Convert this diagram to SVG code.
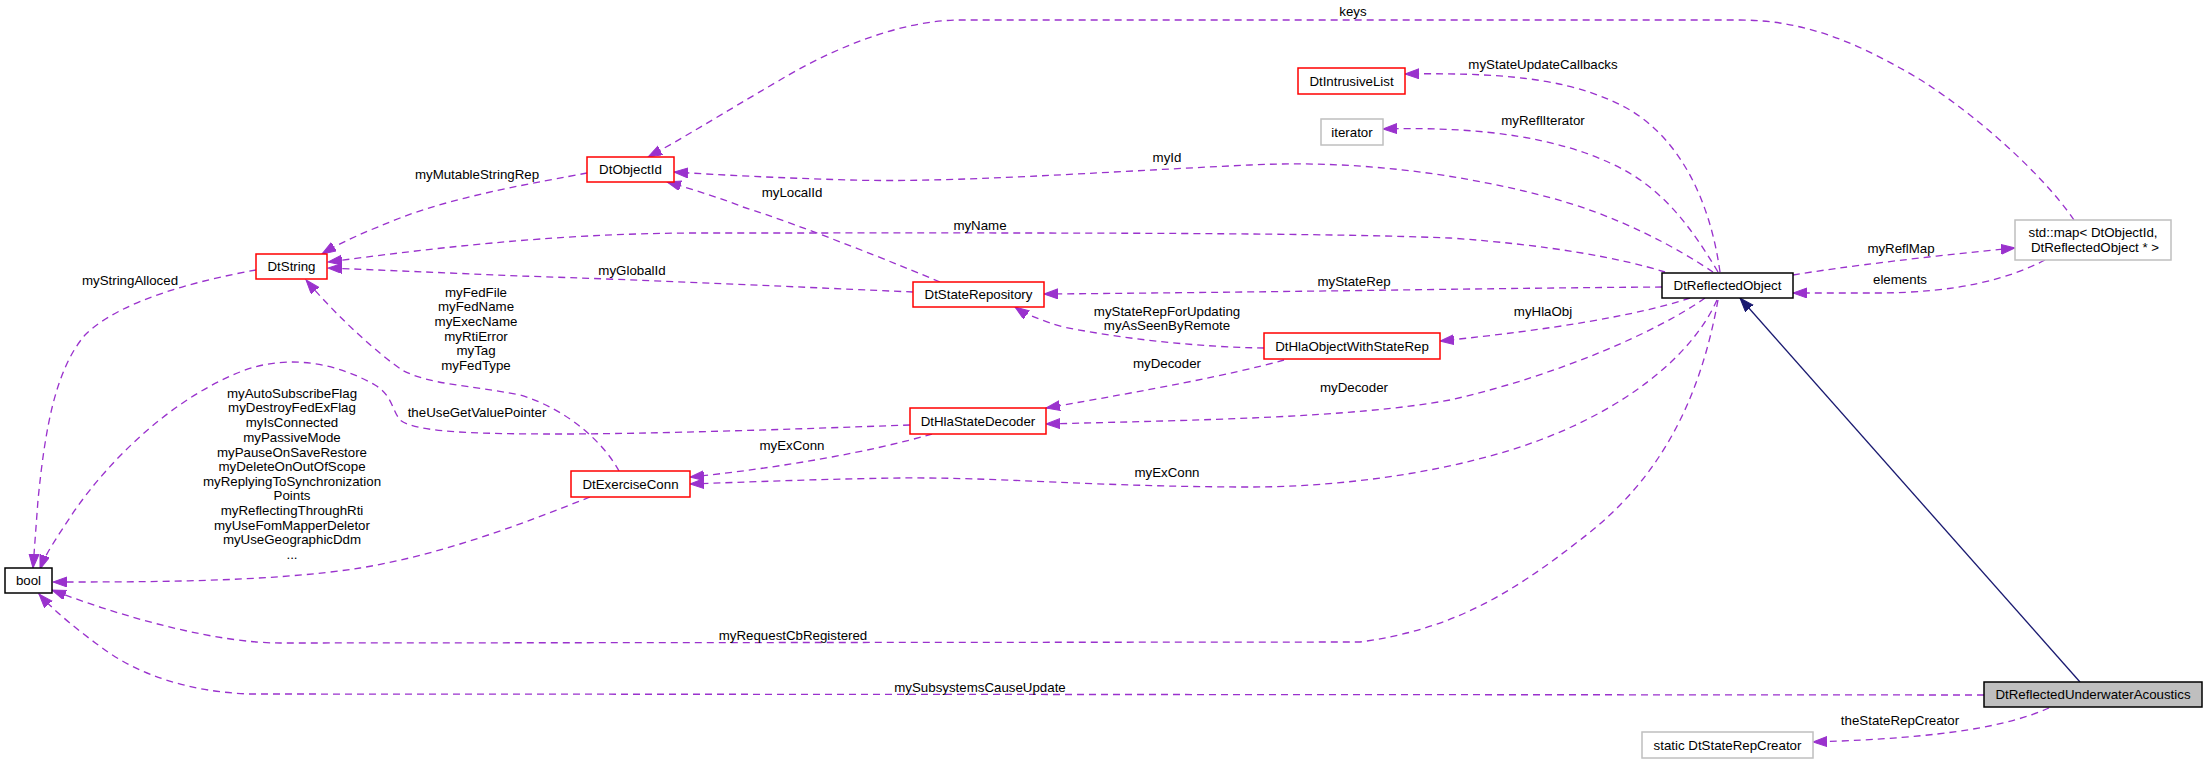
<svg xmlns="http://www.w3.org/2000/svg" width="2208" height="764" viewBox="0 0 2208 764">
<style>
text{font-family:"Liberation Sans",Arial,sans-serif;font-size:13.3px;fill:#000;text-anchor:middle}
.e{fill:none;stroke:#9a32cd;stroke-width:1.33;stroke-dasharray:7,5}
.i{fill:none;stroke:#191970;stroke-width:1.33}
.nb{fill:#fff;stroke:#000;stroke-width:1.5}
.nr{fill:#fff;stroke:#ff0000;stroke-width:1.5}
.ng{fill:#fff;stroke:#bfbfbf;stroke-width:1.5}
.nc{fill:#bfbfbf;stroke:#000;stroke-width:1.5}
</style>
<defs>
<marker id="a" markerUnits="userSpaceOnUse" markerWidth="16" markerHeight="12" refX="14" refY="5" orient="auto"><path d="M0,0 L14,5 L0,10 z" fill="#9a32cd" stroke="#9a32cd"/></marker>
<marker id="b" markerUnits="userSpaceOnUse" markerWidth="16" markerHeight="12" refX="14" refY="5" orient="auto"><path d="M0,0 L14,5 L0,10 z" fill="#191970" stroke="#191970"/></marker>
</defs>
<rect width="2208" height="764" fill="#fff"/>
<g id="connectors">
<path class="e" marker-end="url(#a)" d="M256,270 C200,280 120,300 85,335 C55,370 45,430 38,500 L33,568"/>
<path class="e" marker-end="url(#a)" d="M590,497 C520,525 440,555 360,568 C270,582 150,582 53,582"/>
<path class="e" marker-end="url(#a)" d="M619,471 C605,445 570,410 520,395 C470,385 430,385 402,370 C380,355 340,320 306,280"/>
<path class="e" marker-end="url(#a)" d="M910,425 C800,429 650,434 560,434 C470,434 415,432 400,420 C392,410 392,395 375,385 C340,365 290,352 240,372 C170,400 110,460 75,510 C55,540 45,555 40,569"/>
<path class="e" marker-end="url(#a)" d="M587,173 C540,182 460,195 400,218 C370,230 345,240 322,254"/>
<path class="e" marker-end="url(#a)" d="M1665,272 C1620,258 1550,245 1450,238 C1300,232 1000,233 700,233 C550,233 420,250 328,262"/>
<path class="e" marker-end="url(#a)" d="M913,292 C820,288 650,280 520,276 C450,273 380,270 328,268"/>
<path class="e" marker-end="url(#a)" d="M940,282 C900,265 800,225 743,207 C720,198 695,190 667,182"/>
<path class="e" marker-end="url(#a)" d="M1713,272 C1680,250 1620,215 1540,195 C1450,172 1350,160 1250,165 C1100,172 950,183 850,180 C780,178 720,175 674,172"/>
<path class="e" marker-end="url(#a)" d="M1720,272 C1710,200 1680,140 1630,110 C1580,82 1520,72 1405,74"/>
<path class="e" marker-end="url(#a)" d="M1718,272 C1690,225 1660,185 1610,163 C1560,140 1490,126 1383,129"/>
<path class="e" marker-end="url(#a)" d="M2074,220 C2040,170 1960,100 1900,68 C1850,40 1800,20 1740,20 L960,20 C900,20 830,50 780,80 C720,115 680,140 648,157"/>
<path class="e" marker-end="url(#a)" d="M1793,275 C1840,267 1940,255 2015,248"/>
<path class="e" marker-end="url(#a)" d="M2045,260 C2010,278 1960,293 1875,293 L1793,293"/>
<path class="e" marker-end="url(#a)" d="M1662,287 C1500,288 1300,292 1044,294"/>
<path class="e" marker-end="url(#a)" d="M1264,348 C1200,347 1130,340 1063,327 C1040,320 1025,314 1015,307"/>
<path class="e" marker-end="url(#a)" d="M1284,360 C1230,375 1150,390 1046,408"/>
<path class="e" marker-end="url(#a)" d="M1690,298 C1640,315 1550,330 1440,341"/>
<path class="e" marker-end="url(#a)" d="M1705,298 C1660,330 1560,375 1450,400 C1350,418 1200,420 1046,424"/>
<path class="e" marker-end="url(#a)" d="M932,434 C870,452 780,468 690,477"/>
<path class="e" marker-end="url(#a)" d="M1717,300 C1690,360 1620,410 1540,440 C1460,470 1350,487 1250,487 C1100,487 1000,477 900,478 C820,479 750,482 690,484"/>
<path class="e" marker-end="url(#a)" d="M1718,300 C1700,400 1660,480 1580,540 C1510,595 1450,630 1360,642 L280,643 C220,643 130,620 52,590"/>
<path class="e" marker-end="url(#a)" d="M1984,695 L250,694 C190,692 140,675 105,650 C80,632 55,612 39,594"/>
<path class="e" marker-end="url(#a)" d="M2049,708 C2010,725 1950,738 1813,742"/>
<path class="i" marker-end="url(#b)" d="M2080,682 L1740,298"/>
<text x="1353" y="16">keys</text>
<text x="1543" y="69">myStateUpdateCallbacks</text>
<text x="1543" y="125">myReflIterator</text>
<text x="477" y="179">myMutableStringRep</text>
<text x="1167" y="162">myId</text>
<text x="792" y="197">myLocalId</text>
<text x="980" y="230">myName</text>
<text x="1901" y="253">myReflMap</text>
<text x="1900" y="284">elements</text>
<text x="130" y="285">myStringAlloced</text>
<text x="632" y="275">myGlobalId</text>
<text x="1354" y="286">myStateRep</text>
<text x="476" y="297">myFedFile</text>
<text x="476" y="311">myFedName</text>
<text x="476" y="326">myExecName</text>
<text x="476" y="341">myRtiError</text>
<text x="476" y="355">myTag</text>
<text x="476" y="370">myFedType</text>
<text x="1167" y="316">myStateRepForUpdating</text>
<text x="1167" y="330">myAsSeenByRemote</text>
<text x="1543" y="316">myHlaObj</text>
<text x="1167" y="368">myDecoder</text>
<text x="1354" y="392">myDecoder</text>
<text x="477" y="417">theUseGetValuePointer</text>
<text x="792" y="450">myExConn</text>
<text x="1167" y="477">myExConn</text>
<text x="292" y="398">myAutoSubscribeFlag</text>
<text x="292" y="412">myDestroyFedExFlag</text>
<text x="292" y="427">myIsConnected</text>
<text x="292" y="442">myPassiveMode</text>
<text x="292" y="457">myPauseOnSaveRestore</text>
<text x="292" y="471">myDeleteOnOutOfScope</text>
<text x="292" y="486">myReplyingToSynchronization</text>
<text x="292" y="500">Points</text>
<text x="292" y="515">myReflectingThroughRti</text>
<text x="292" y="530">myUseFomMapperDeletor</text>
<text x="292" y="544">myUseGeographicDdm</text>
<text x="292" y="559">...</text>
<text x="793" y="640">myRequestCbRegistered</text>
<text x="980" y="692">mySubsystemsCauseUpdate</text>
<text x="1900" y="725">theStateRepCreator</text>
</g>
<g id="bool"><rect class="nb" x="5" y="568" width="47" height="25"/><text x="28.5" y="585">bool</text></g>
<g id="DtString"><rect class="nr" x="256" y="254" width="71" height="25"/><text x="291.5" y="271">DtString</text></g>
<g id="DtObjectId"><rect class="nr" x="587" y="157" width="87" height="25"/><text x="630.5" y="174">DtObjectId</text></g>
<g id="DtIntrusiveList"><rect class="nr" x="1298" y="68" width="107" height="26"/><text x="1351.5" y="85.5">DtIntrusiveList</text></g>
<g id="iterator"><rect class="ng" x="1321" y="119" width="62" height="26"/><text x="1352" y="136.5">iterator</text></g>
<g id="stdmap"><rect class="ng" x="2015" y="220" width="156" height="40"/><text x="2093" y="237">std::map&lt; DtObjectId,</text><text x="2095" y="252">DtReflectedObject * &gt;</text></g>
<g id="DtReflectedObject"><rect class="nb" x="1662" y="273" width="131" height="25"/><text x="1727.5" y="290">DtReflectedObject</text></g>
<g id="DtStateRepository"><rect class="nr" x="913" y="282" width="131" height="25"/><text x="978.5" y="299">DtStateRepository</text></g>
<g id="DtHlaObjectWithStateRep"><rect class="nr" x="1264" y="333" width="176" height="26"/><text x="1352" y="350.5">DtHlaObjectWithStateRep</text></g>
<g id="DtHlaStateDecoder"><rect class="nr" x="910" y="408" width="136" height="26"/><text x="978" y="425.5">DtHlaStateDecoder</text></g>
<g id="DtExerciseConn"><rect class="nr" x="571" y="471" width="119" height="26"/><text x="630.5" y="488.5">DtExerciseConn</text></g>
<g id="DtReflectedUnderwaterAcoustics"><rect class="nc" x="1984" y="682" width="218" height="25"/><text x="2093" y="699">DtReflectedUnderwaterAcoustics</text></g>
<g id="DtStateRepCreator"><rect class="ng" x="1642" y="732" width="171" height="26"/><text x="1727.5" y="749.5">static DtStateRepCreator</text></g>
</svg>
